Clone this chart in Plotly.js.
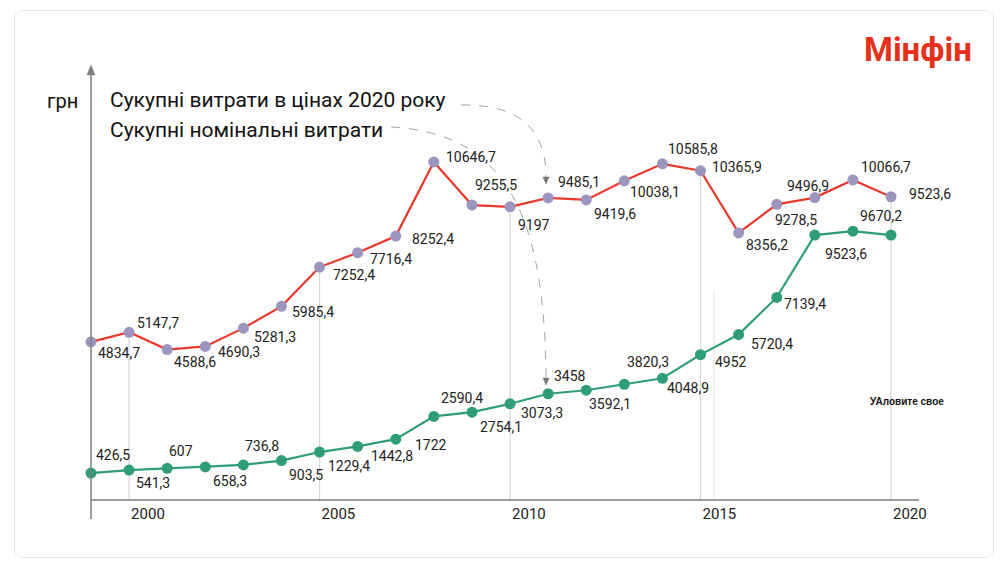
<!DOCTYPE html>
<html>
<head>
<meta charset="utf-8">
<script src="https://cdn.plot.ly/plotly-3.0.1.min.js"></script>
<style>
  html, body { margin: 0; padding: 0; background: #ffffff; }
  #wrap { position: relative; width: 1000px; height: 568px; overflow: hidden; }
  #card { position: absolute; left: 14px; top: 10px; width: 978px; height: 546px;
          border: 1px solid #e3e3e3; border-radius: 9px; background: #fff; }
  #chart { position: absolute; left: 0; top: 0; width: 1000px; height: 568px; }
</style>
</head>
<body>
<div id="wrap"><div id="card"></div><div id="chart"></div></div>
<script>
// ---- data ----
const years = [1999, 2000, 2001, 2002, 2003, 2004, 2005, 2006, 2007, 2008, 2009,
               2010, 2011, 2012, 2013, 2014, 2015, 2016, 2017, 2018, 2019, 2020];
const realSpending = [4834.7, 5147.7, 4588.6, 4690.3, 5281.3, 5985.4, 7252.4, 7716.4, 8252.4, 10646.7, 9255.5,
                      9197, 9485.1, 9419.6, 10038.1, 10585.8, 10365.9, 8356.2, 9278.5, 9496.9, 10066.7, 9523.6];
const nominalSpending = [426.5, 541.3, 607, 658.3, 736.8, 903.5, 1229.4, 1442.8, 1722, 2590.4, 2754.1,
                         3073.3, 3458, 3592.1, 3820.3, 4048.9, 4952, 5720.4, 7139.4, 9523.6, 9670.2, 9523.6];
const tickYears = [2000, 2005, 2010, 2015, 2020];
const tickLabels = ['2000', '2005', '2010', '2015', '2020'];
const gridYears = [2000, 2005, 2010, 2015, 2020];
const legendRealText = 'Сукупні витрати в цінах 2020 року';
const legendNominalText = 'Сукупні номінальні витрати';
const unitText = 'грн';
const logoText = 'Мінфін';
const sourceText = 'УАловите свое';

// ---- label placement (style only: pixel offsets dx, dy-down) ----
const realLabelOffsets = [[5,11],[6,-9],[5,12],[11,6],[9,9],[9,6],[11,8],[10,6],[14,3],[10,-5],[1,-20],
                          [6,18],[8,-16],[6,14],[4,11],[4,-15],[9,-4],[5,12],[-4,16],[-30,-12],[6,-13],[16,-3]];
const nominalLabelOffsets = [[3,-18],[5,13],[0,-17],[6,14],[0,-19],[6,14],[6,14],[11,10],[17,6],[5,-18],[6,15],
                             [9,9],[4,-18],[1,14],[1,-22],[3,10],[12,7],[10,9],[5,7],[8,19],[5,-15],null];

// ---- geometry / style ----
const W = 1000, H = 568;
const M = { l: 91, r: 80, t: 70, b: 68 };
const plotW = W - M.l - M.r, plotH = H - M.t - M.b;
const xRange = [1999, 1999 + plotW / 38.095];
const yRange = [-268, 13616];
const y2Range = [-604, 15833];
const RED = '#e8392c', PURPLE = '#9c95bd', GREEN = '#2f9e77', AXIS = '#7d7d7d', GRID = '#d6d6d6';
const FONT = 'Roboto, "Noto Sans", sans-serif';

function fmt(v) { return String(v).replace('.', ','); }
// pixel -> paper
function px(x) { return (x - M.l) / plotW; }
function py(y) { return (M.t + plotH - y) / plotH; }
function pathFromPx(cmds) {
  return cmds.map(c => c[0] + (c.length > 1 ? ' ' + c.slice(1).reduce((a, v, i) =>
    a.concat(i % 2 === 0 ? px(v) : py(v)), []).join(',') : '')).join(' ');
}

const traces = [
  { x: years, y: nominalSpending, yaxis: 'y2', type: 'scatter', mode: 'lines+markers',
    line: { color: GREEN, width: 2.2 }, marker: { color: GREEN, size: 11 },
    cliponaxis: false, hoverinfo: 'skip' },
  { x: years, y: realSpending, yaxis: 'y', type: 'scatter', mode: 'lines+markers',
    line: { color: RED, width: 2.2 }, marker: { color: PURPLE, size: 11 },
    cliponaxis: false, hoverinfo: 'skip' }
];

const annotations = [];
years.forEach((yr, i) => {
  const o = realLabelOffsets[i];
  annotations.push({ x: yr, y: realSpending[i], xref: 'x', yref: 'y', text: fmt(realSpending[i]),
    showarrow: false, xanchor: 'left', yanchor: 'middle', xshift: o[0], yshift: -o[1],
    font: { family: FONT, size: 14, color: '#222' } });
  const g = nominalLabelOffsets[i];
  if (g) annotations.push({ x: yr, y: nominalSpending[i], xref: 'x', yref: 'y2', text: fmt(nominalSpending[i]),
    showarrow: false, xanchor: 'left', yanchor: 'middle', xshift: g[0], yshift: -g[1],
    font: { family: FONT, size: 14, color: '#222' } });
});
annotations.push(
  { xref: 'paper', yref: 'paper', x: px(108), y: py(100), xanchor: 'left', yanchor: 'middle',
    text: legendRealText, showarrow: false, font: { family: FONT, size: 21, color: '#111' } },
  { xref: 'paper', yref: 'paper', x: px(108), y: py(130), xanchor: 'left', yanchor: 'middle',
    text: legendNominalText, showarrow: false, font: { family: FONT, size: 21, color: '#111' } },
  { xref: 'paper', yref: 'paper', x: px(45), y: py(101), xanchor: 'left', yanchor: 'middle',
    text: unitText, showarrow: false, font: { family: FONT, size: 20, color: '#111' } },
  { xref: 'paper', yref: 'paper', x: px(862), y: py(49), xanchor: 'left', yanchor: 'middle',
    text: '<b>' + logoText + '</b>', showarrow: false, font: { family: FONT, size: 33, color: '#e4311b' } },
  { xref: 'paper', yref: 'paper', x: px(868), y: py(401), xanchor: 'left', yanchor: 'middle',
    text: '<b>' + sourceText + '</b>', showarrow: false,
    font: { family: '"Liberation Sans", Arial, sans-serif', size: 10, color: '#111' } }
);

const below = (yRange[1] - yRange[0]) * 18 / plotH;
const shapes = [];
gridYears.forEach(yr => {
  const idx = years.indexOf(yr);
  shapes.push({ type: 'line', xref: 'x', yref: 'y', x0: yr, x1: yr, y0: yRange[0] - below,
    y1: realSpending[idx], line: { color: GRID, width: 1.2 }, layer: 'below' });
});
shapes.push(
  // stray faint guide line seen in the original
  { type: 'line', xref: 'paper', yref: 'paper', x0: px(714), x1: px(714), y0: py(500), y1: py(291),
    line: { color: '#e2e2e2', width: 1 }, layer: 'below' },
  // axes
  { type: 'line', xref: 'paper', yref: 'paper', x0: 0, x1: 0, y0: py(519), y1: py(70),
    line: { color: AXIS, width: 1.5 } },
  { type: 'line', xref: 'paper', yref: 'paper', x0: 0, x1: px(919), y0: 0, y1: 0,
    line: { color: AXIS, width: 1.5 } },
  { type: 'path', xref: 'paper', yref: 'paper',
    path: pathFromPx([['M', 87, 75], ['L', 91, 65], ['L', 95, 75], ['Z']]),
    fillcolor: AXIS, line: { color: AXIS, width: 0.5 } },
  // legend connectors
  { type: 'path', xref: 'paper', yref: 'paper',
    path: pathFromPx([['M', 461, 105], ['C', 518, 104, 546, 128, 546, 177]]),
    line: { color: '#999', width: 0.9, dash: 'dash' } },
  { type: 'path', xref: 'paper', yref: 'paper',
    path: pathFromPx([['M', 543, 177], ['L', 549, 177], ['L', 546, 184], ['Z']]),
    fillcolor: '#777', line: { color: '#777', width: 0.5 } },
  { type: 'path', xref: 'paper', yref: 'paper',
    path: pathFromPx([['M', 391, 127], ['C', 500, 133, 545, 205, 546, 378]]),
    line: { color: '#999', width: 0.9, dash: 'dash' } },
  { type: 'path', xref: 'paper', yref: 'paper',
    path: pathFromPx([['M', 543, 378], ['L', 549, 378], ['L', 546, 385], ['Z']]),
    fillcolor: '#777', line: { color: '#777', width: 0.5 } }
);

const layout = {
  width: W, height: H, margin: M,
  paper_bgcolor: 'rgba(0,0,0,0)', plot_bgcolor: 'rgba(0,0,0,0)',
  showlegend: false,
  font: { family: FONT },
  xaxis: { range: xRange, showgrid: false, zeroline: false, showline: false,
           tickmode: 'array', tickvals: tickYears, ticktext: tickLabels, ticks: '',
           ticklabelposition: 'outside right', ticklabelshift: 2, ticklabelstandoff: 3,
           tickfont: { family: FONT, size: 15, color: '#222' },
           fixedrange: true },
  yaxis: { range: yRange, visible: false, fixedrange: true },
  yaxis2: { range: y2Range, overlaying: 'y', visible: false, fixedrange: true },
  shapes: shapes,
  annotations: annotations
};

Plotly.newPlot('chart', traces, layout, { staticPlot: true, displayModeBar: false });
</script>
</body>
</html>
